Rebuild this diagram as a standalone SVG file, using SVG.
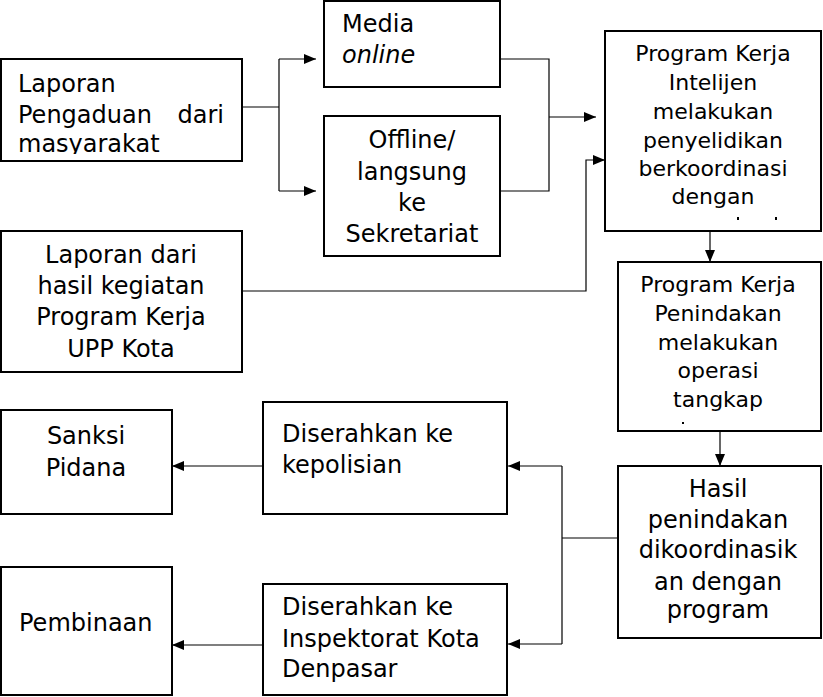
<svg xmlns="http://www.w3.org/2000/svg" width="823" height="697" viewBox="0 0 823 697">
<style>
.box{fill:#fff;stroke:#000;stroke-width:2}
.t{font-family:"DejaVu Sans",Verdana,sans-serif;font-size:24px;fill:#000}
.s{font-size:22px}
.c{text-anchor:middle}
.e{text-anchor:end}
.con{fill:none;stroke:#000;stroke-width:1.2}
</style>
<defs>
<marker id="ah" markerUnits="userSpaceOnUse" markerWidth="12" markerHeight="10" refX="12" refY="5" orient="auto">
<path d="M0,0 L12,5 L0,10 z" fill="#000"/>
</marker>
<clipPath id="clipA"><rect x="0" y="58" width="242" height="96"/></clipPath>
</defs>
<rect width="823" height="697" fill="#fff"/>
<g id="connectors">
<path class="con" d="M242,107 H279 M279,59 V191"/>
<path class="con" d="M279,59 H316" marker-end="url(#ah)"/>
<path class="con" d="M279,191 H316" marker-end="url(#ah)"/>
<path class="con" d="M500,59 H549 V191 H500"/>
<path class="con" d="M549,117 H596" marker-end="url(#ah)"/>
<path class="con" d="M242,291 H586 V160 H605" marker-end="url(#ah)"/>
<path class="con" d="M710,231 V262" marker-end="url(#ah)"/>
<path class="con" d="M720,431 V466" marker-end="url(#ah)"/>
<path class="con" d="M618,538 H562 M562,466 V644"/>
<path class="con" d="M562,466 H508" marker-end="url(#ah)"/>
<path class="con" d="M562,644 H508" marker-end="url(#ah)"/>
<path class="con" d="M263,466 H172" marker-end="url(#ah)"/>
<path class="con" d="M263,645 H172" marker-end="url(#ah)"/>
</g>
<g id="laporan-pengaduan">
<rect class="box" x="1" y="59" width="241" height="102"/>
<g clip-path="url(#clipA)">
<text class="t" x="18" y="92">Laporan</text>
<text class="t" x="18" y="123">Pengaduan</text>
<text class="t e" x="224" y="123">dari</text>
<text class="t" x="18" y="152">masyarakat</text>
</g>
</g>
<g id="media-online">
<rect class="box" x="324" y="1" width="176" height="86"/>
<text class="t" x="342" y="32">Media</text>
<text class="t" x="342" y="63" font-style="italic">online</text>
</g>
<g id="offline">
<rect class="box" x="324" y="116" width="176" height="140"/>
<text class="t c" x="412" y="148">Offline/</text>
<text class="t c" x="412" y="180">langsung</text>
<text class="t c" x="412" y="211">ke</text>
<text class="t c" x="412" y="242">Sekretariat</text>
</g>
<g id="laporan-hasil">
<rect class="box" x="1" y="231" width="241" height="141"/>
<text class="t c" x="121" y="263">Laporan dari</text>
<text class="t c" x="121" y="294">hasil kegiatan</text>
<text class="t c" x="121" y="325">Program Kerja</text>
<text class="t c" x="121" y="357">UPP Kota</text>
</g>
<g id="intelijen">
<rect class="box" x="605" y="31" width="216" height="200"/>
<text class="t s c" x="713" y="61">Program Kerja</text>
<text class="t s c" x="713" y="90">Intelijen</text>
<text class="t s c" x="713" y="119">melakukan</text>
<text class="t s c" x="713" y="148">penyelidikan</text>
<text class="t s c" x="713" y="176">berkoordinasi</text>
<text class="t s c" x="713" y="204">dengan</text>
<rect x="737" y="217" width="2" height="3" fill="#000"/>
<rect x="775" y="217" width="2" height="3" fill="#000"/>
</g>
<g id="penindakan">
<rect class="box" x="618" y="262" width="203" height="169"/>
<text class="t s c" x="718" y="292">Program Kerja</text>
<text class="t s c" x="718" y="321">Penindakan</text>
<text class="t s c" x="718" y="350">melakukan</text>
<text class="t s c" x="718" y="378">operasi</text>
<text class="t s c" x="718" y="407">tangkap</text>
<rect x="682" y="422" width="2" height="2" fill="#000"/>
</g>
<g id="hasil">
<rect class="box" x="618" y="466" width="203" height="172"/>
<text class="t c" x="718" y="497">Hasil</text>
<text class="t c" x="718" y="528">penindakan</text>
<text class="t c" x="718" y="558">dikoordinasik</text>
<text class="t c" x="718" y="590">an dengan</text>
<text class="t c" x="718" y="618">program</text>
</g>
<g id="kepolisian">
<rect class="box" x="263" y="402" width="244" height="112"/>
<text class="t" x="282" y="442">Diserahkan ke</text>
<text class="t" x="282" y="473">kepolisian</text>
</g>
<g id="sanksi">
<rect class="box" x="1" y="410" width="171" height="104"/>
<text class="t c" x="86" y="444">Sanksi</text>
<text class="t c" x="86" y="476">Pidana</text>
</g>
<g id="inspektorat">
<rect class="box" x="263" y="584" width="244" height="111"/>
<text class="t" x="282" y="615">Diserahkan ke</text>
<text class="t" x="282" y="647">Inspektorat Kota</text>
<text class="t" x="282" y="677">Denpasar</text>
</g>
<g id="pembinaan">
<rect class="box" x="1" y="567" width="171" height="128"/>
<text class="t" x="19" y="631">Pembinaan</text>
</g>
</svg>
